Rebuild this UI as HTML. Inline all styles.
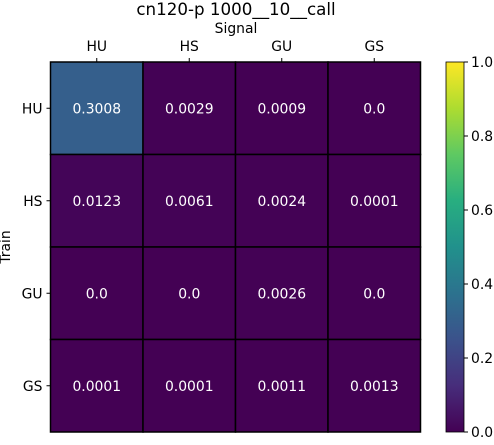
<!DOCTYPE html>
<html><head><meta charset="utf-8"><style>
body{margin:0;background:#fff;font-family:"Liberation Sans","DejaVu Sans",sans-serif;}
svg text{font-family:"DejaVu Sans","Liberation Sans",sans-serif;}
</style></head><body>
<svg id="chart" width="494" height="440" xmlns="http://www.w3.org/2000/svg">
<defs><linearGradient id="vir" x1="0" y1="1" x2="0" y2="0">
<stop offset="0" stop-color="#440154"/><stop offset="0.125" stop-color="#472d7b"/><stop offset="0.25" stop-color="#3b528b"/><stop offset="0.375" stop-color="#2c728e"/><stop offset="0.5" stop-color="#21918c"/><stop offset="0.625" stop-color="#28ae80"/><stop offset="0.75" stop-color="#5ec962"/><stop offset="0.875" stop-color="#addc30"/><stop offset="1" stop-color="#fde725"/></linearGradient></defs>
<text x="236" y="15" font-size="16.7" text-anchor="middle">cn120-p 1000__10__call</text>
<text x="236" y="33" font-size="13.9" text-anchor="middle">Signal</text>
<text x="10" y="247" font-size="13.9" text-anchor="middle" transform="rotate(-90 10 247)">Train</text>
<g id="cells"></g>
<rect x="446" y="62" width="18" height="370" fill="url(#vir)" stroke="#000" stroke-width="0.8"/>
<g id="cbticks"></g>
</svg>
<script>
const rowLabels=["HU","HS","GU","GS"];
const colLabels=["HU","HS","GU","GS"];
const values=[[0.3008,0.0029,0.0009,0.0],[0.0123,0.0061,0.0024,0.0001],[0.0,0.0,0.0026,0.0],[0.0001,0.0001,0.0011,0.0013]];
const cbTicks=[0.0,0.2,0.4,0.6,0.8,1.0];
const NS="http://www.w3.org/2000/svg";
const X0=50.5,Y0=62,W=370,H=370;
const cw=W/colLabels.length,ch=H/rowLabels.length;
const xs=j=>X0+j*cw, ys=i=>Y0+i*ch, cy=v=>Y0+H-v*H;
const stops=[[68,1,84],[71,45,123],[59,82,139],[44,114,142],[33,145,140],[40,174,128],[94,201,98],[173,220,48],[253,231,37]];
function vir(v){v=Math.max(0,Math.min(1,v));const t=v*8,i=Math.min(7,Math.floor(t)),f=t-i;const c=stops[i].map((a,k)=>Math.round(a+(stops[i+1][k]-a)*f));return `rgb(${c})`;}
function mk(tag,attrs,parent){const e=document.createElementNS(NS,tag);for(const k in attrs)e.setAttribute(k,attrs[k]);parent.appendChild(e);return e;}
const g=document.getElementById('cells'),svg=document.getElementById('chart');
values.forEach((row,i)=>row.forEach((v,j)=>{
 const r=mk('rect',{x:xs(j),y:ys(i),width:cw,height:ch,fill:vir(v),stroke:'#000','stroke-width':1.5},g);
 
 
 const t=mk('text',{x:xs(j)+cw/2,y:ys(i)+ch/2+5,'font-size':13.9,'text-anchor':'middle',fill:'#fff'},g);
 t.textContent=String(v).includes('.')?String(v):v.toFixed(1);
 
 
}));
colLabels.forEach((l,j)=>{
 mk('line',{x1:xs(j)+cw/2,x2:xs(j)+cw/2,y1:Y0-4,y2:Y0,stroke:'#000'},svg);
 const t=mk('text',{x:xs(j)+cw/2,y:Y0-11,'font-size':13.9,'text-anchor':'middle'},svg);t.textContent=l;
 
 
});
rowLabels.forEach((l,i)=>{
 mk('line',{x1:X0-4,x2:X0,y1:ys(i)+ch/2,y2:ys(i)+ch/2,stroke:'#000'},svg);
 const t=mk('text',{x:X0-8,y:ys(i)+ch/2+5,'font-size':13.9,'text-anchor':'end'},svg);t.textContent=l;
 
 
});
const cb=document.getElementById('cbticks');
cbTicks.forEach(v=>{
 mk('line',{x1:464,x2:468,y1:cy(v),y2:cy(v),stroke:'#000'},cb);
 const t=mk('text',{x:471,y:cy(v)+5,'font-size':13.9},cb);t.textContent=v.toFixed(1);
 
 
});
</script>
</body></html>
